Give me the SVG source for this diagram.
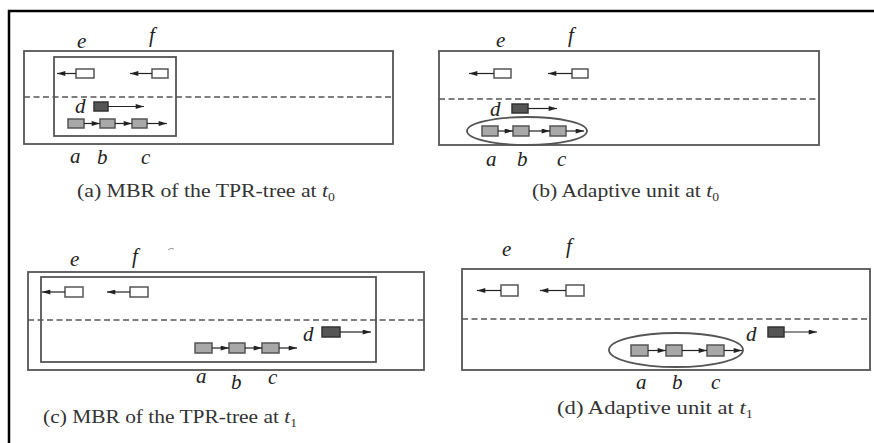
<svg xmlns="http://www.w3.org/2000/svg" width="874" height="443" viewBox="0 0 874 443">
<style>
.frame{fill:none;stroke:#000;stroke-width:2.5}
.road{fill:none;stroke:#555;stroke-width:1.8}
.mbr{fill:none;stroke:#555;stroke-width:1.8}
.lane{stroke:#555;stroke-width:1.5;stroke-dasharray:6 3.5}
.wb{fill:#fff;stroke:#555;stroke-width:1.5}
.gb{fill:#a8a8a8;stroke:#555;stroke-width:1.5}
.db{fill:#555;stroke:#333;stroke-width:1.5}
.ell{fill:none;stroke:#555;stroke-width:1.8}
.arr{stroke:#222;stroke-width:1.2;fill:none;marker-end:url(#ah)}
.lbl{font-family:"Liberation Serif",serif;font-style:italic;font-size:21px;fill:#222}
.cap{font-family:"Liberation Serif",serif;font-size:19px;fill:#333}
.cap tspan.it{font-style:italic}
</style>
<defs>
<marker id="ah" viewBox="0 0 10 6" refX="10" refY="3" markerWidth="9" markerHeight="5" markerUnits="userSpaceOnUse" orient="auto">
<path d="M0,0 L10,3 L0,6 Z" fill="#222"/>
</marker>
</defs>
<path class="frame" d="M9,443 V11 H874"/>

<!-- Panel (a) -->
<g id="panel-a">
<rect class="road" x="24" y="51" width="369" height="93"/>
<line class="lane" x1="24" y1="97" x2="393" y2="97"/>
<rect id="mbr-a" class="mbr" x="54" y="57" width="122" height="79"/>
<g id="a-e"><rect class="wb" x="76" y="69" width="18" height="9"/><text class="lbl" x="77" y="48">e</text></g>
<g id="a-f"><rect class="wb" x="152" y="69" width="16" height="9"/><text class="lbl" x="149" y="42">f</text></g>
<g id="a-d"><rect class="db" x="94" y="102" width="14" height="9"/><text class="lbl" x="75" y="113">d</text></g>
<g id="a-a"><rect class="gb" x="68" y="119" width="16" height="9"/><text class="lbl" x="70" y="163">a</text></g>
<g id="a-b"><rect class="gb" x="100" y="119" width="15" height="9"/><text class="lbl" x="97" y="164">b</text></g>
<g id="a-c"><rect class="gb" x="132" y="119" width="15" height="9"/><text class="lbl" x="141" y="164">c</text></g>
<text class="cap" x="77" y="197" textLength="258" lengthAdjust="spacingAndGlyphs">(a) MBR of the TPR-tree at <tspan class="it">t</tspan><tspan font-size="12" dy="4">0</tspan></text>
</g>

<!-- Panel (b) -->
<g id="panel-b">
<rect class="road" x="439" y="51" width="380" height="94"/>
<line class="lane" x1="439" y1="99" x2="819" y2="99"/>
<ellipse id="unit-b" class="ell" cx="527" cy="131" rx="60" ry="14"/>
<g id="b-e"><rect class="wb" x="494" y="69" width="17" height="9"/><text class="lbl" x="496" y="47">e</text></g>
<g id="b-f"><rect class="wb" x="572" y="69" width="16" height="9"/><text class="lbl" x="568" y="42">f</text></g>
<g id="b-d"><rect class="db" x="512" y="104" width="16" height="9"/><text class="lbl" x="490" y="116">d</text></g>
<g id="b-a"><rect class="gb" x="482" y="126" width="16" height="10"/><text class="lbl" x="486" y="166">a</text></g>
<g id="b-b"><rect class="gb" x="513" y="126" width="16" height="10"/><text class="lbl" x="517" y="166">b</text></g>
<g id="b-c"><rect class="gb" x="550" y="126" width="16" height="10"/><text class="lbl" x="557" y="166">c</text></g>
<text class="cap" x="532" y="197" textLength="187" lengthAdjust="spacingAndGlyphs">(b) Adaptive unit at <tspan class="it">t</tspan><tspan font-size="12" dy="4">0</tspan></text>
</g>

<!-- Panel (c) -->
<g id="panel-c">
<rect class="road" x="28" y="272" width="396" height="98"/>
<line class="lane" x1="28" y1="320" x2="424" y2="320"/>
<rect id="mbr-c" class="mbr" x="41" y="277" width="335" height="85"/>
<g id="c-e"><rect class="wb" x="65" y="287" width="18" height="10"/><text class="lbl" x="70" y="266">e</text></g>
<g id="c-f"><rect class="wb" x="130" y="287" width="18" height="10"/><text class="lbl" x="132" y="263">f</text></g>
<g id="c-d"><rect class="db" x="322" y="327" width="18" height="10"/><text class="lbl" x="303" y="341">d</text></g>
<g id="c-a"><rect class="gb" x="195" y="343" width="17" height="10"/><text class="lbl" x="196" y="383">a</text></g>
<g id="c-b"><rect class="gb" x="229" y="343" width="16" height="10"/><text class="lbl" x="231" y="389">b</text></g>
<g id="c-c"><rect class="gb" x="262" y="343" width="17" height="10"/><text class="lbl" x="268" y="384">c</text></g>
<path d="M168,250 q3,-3 6,-1" fill="none" stroke="#999" stroke-width="1"/>
<text class="cap" x="43" y="423" textLength="254" lengthAdjust="spacingAndGlyphs">(c) MBR of the TPR-tree at <tspan class="it">t</tspan><tspan font-size="12" dy="4">1</tspan></text>
</g>

<!-- Panel (d) -->
<g id="panel-d">
<rect class="road" x="462" y="269" width="408" height="101"/>
<line class="lane" x1="462" y1="319" x2="870" y2="319"/>
<ellipse id="unit-d" class="ell" cx="676" cy="350" rx="67" ry="17"/>
<g id="d-e"><rect class="wb" x="501" y="285" width="17" height="11"/><text class="lbl" x="502" y="256">e</text></g>
<g id="d-f"><rect class="wb" x="566" y="285" width="18" height="11"/><text class="lbl" x="566" y="253">f</text></g>
<g id="d-d"><rect class="db" x="768" y="327" width="16" height="10"/><text class="lbl" x="746" y="341">d</text></g>
<g id="d-a"><rect class="gb" x="631" y="345" width="17" height="11"/><text class="lbl" x="636" y="389">a</text></g>
<g id="d-b"><rect class="gb" x="666" y="345" width="16" height="11"/><text class="lbl" x="672" y="389">b</text></g>
<g id="d-c"><rect class="gb" x="707" y="345" width="17" height="11"/><text class="lbl" x="711" y="389">c</text></g>
<text class="cap" x="557" y="414" textLength="196" lengthAdjust="spacingAndGlyphs">(d) Adaptive unit at <tspan class="it">t</tspan><tspan font-size="12" dy="4">1</tspan></text>
</g>

<g id="connectors">
<!-- a -->
<line class="arr" x1="76" y1="73.5" x2="57" y2="73.5"/>
<line class="arr" x1="152" y1="73.5" x2="130" y2="73.5"/>
<line class="arr" x1="108" y1="106.5" x2="144" y2="106.5"/>
<line class="arr" x1="84" y1="123.5" x2="100" y2="123.5"/>
<line class="arr" x1="115" y1="123.5" x2="132" y2="123.5"/>
<line class="arr" x1="147" y1="123.5" x2="167" y2="123.5"/>
<!-- b -->
<line class="arr" x1="494" y1="73.5" x2="469" y2="73.5"/>
<line class="arr" x1="572" y1="73.5" x2="548" y2="73.5"/>
<line class="arr" x1="528" y1="108.5" x2="557" y2="108.5"/>
<line class="arr" x1="498" y1="131" x2="513" y2="131"/>
<line class="arr" x1="529" y1="131" x2="550" y2="131"/>
<line class="arr" x1="566" y1="131" x2="584" y2="131"/>
<!-- c -->
<line class="arr" x1="65" y1="292" x2="42" y2="292"/>
<line class="arr" x1="130" y1="292" x2="107" y2="292"/>
<line class="arr" x1="340" y1="332" x2="371" y2="332"/>
<line class="arr" x1="212" y1="348" x2="229" y2="348"/>
<line class="arr" x1="245" y1="348" x2="262" y2="348"/>
<line class="arr" x1="279" y1="348" x2="297" y2="348"/>
<!-- d -->
<line class="arr" x1="501" y1="290.5" x2="477" y2="290.5"/>
<line class="arr" x1="566" y1="290.5" x2="540" y2="290.5"/>
<line class="arr" x1="784" y1="332" x2="817" y2="332"/>
<line class="arr" x1="648" y1="350.5" x2="666" y2="350.5"/>
<line class="arr" x1="682" y1="350.5" x2="707" y2="350.5"/>
<line class="arr" x1="724" y1="350.5" x2="742" y2="350.5"/>
</g>
</svg>
